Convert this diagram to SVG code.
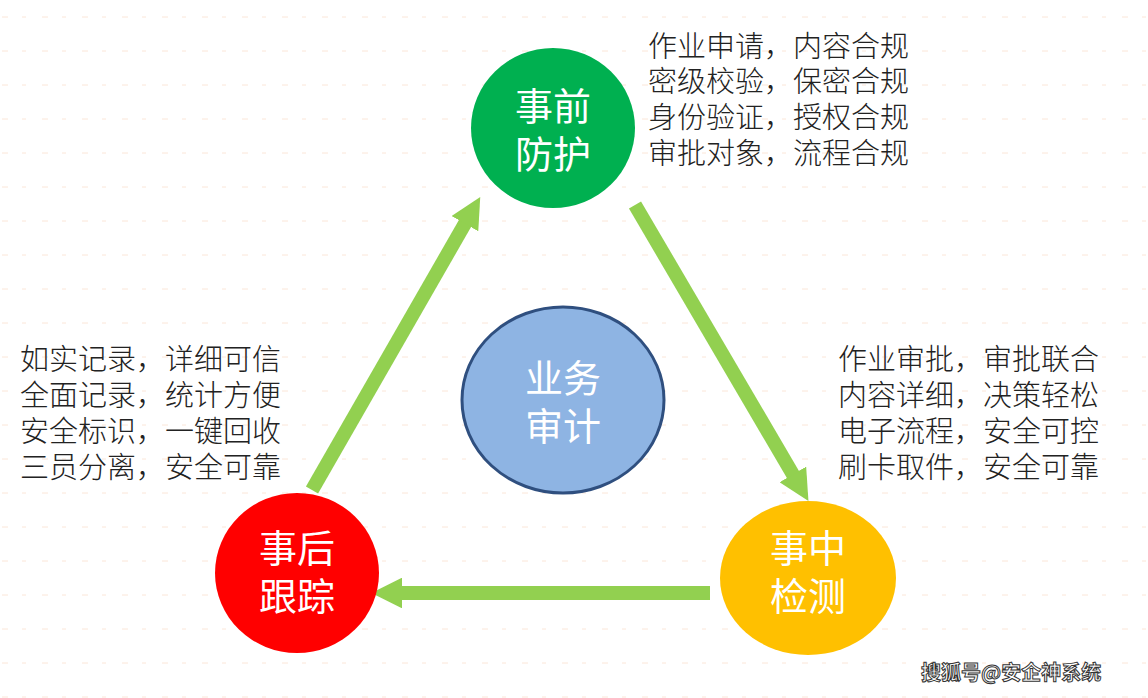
<svg xmlns="http://www.w3.org/2000/svg" width="1148" height="698" viewBox="0 0 1148 698">
<style>
.t{font-family:"Noto Sans CJK SC","Liberation Sans",sans-serif;font-size:29px;font-weight:300;fill:#222}
.c{font-family:"Noto Sans CJK SC","Liberation Sans",sans-serif;font-size:38px;fill:#fff;text-anchor:middle}
.a{stroke:#92d050;stroke-width:14;fill:none}
</style>
<defs>
<marker id="h" markerWidth="2.2" markerHeight="2.2" refX="0.3" refY="1.1" orient="auto" markerUnits="strokeWidth"><path d="M0,0L2.2,1.1L0,2.2z" fill="#92d050"/></marker>
<pattern id="g" width="40" height="34" patternUnits="userSpaceOnUse"><path d="M2,17h6M22,17h4" stroke="#fbe6d8" stroke-width="1"/></pattern>
</defs>
<rect width="1148" height="698" fill="#fff"/>
<rect width="1148" height="698" fill="url(#g)"/>
<g id="connectors">
<line class="a" x1="635" y1="205" x2="795" y2="478" marker-end="url(#h)"/>
<line class="a" x1="710" y1="593" x2="398" y2="593" marker-end="url(#h)"/>
<line class="a" x1="312" y1="490" x2="467" y2="220" marker-end="url(#h)"/>
</g>
<g id="pre"><ellipse cx="553" cy="128" rx="82" ry="80" fill="#00b050"/><text class="c" x="553" y="120">事前</text><text class="c" x="553" y="168">防护</text></g>
<g id="center"><ellipse cx="563" cy="400" rx="101" ry="93" fill="#8eb4e3" stroke="#2f4f7f" stroke-width="3"/><text class="c" x="563" y="392">业务</text><text class="c" x="563" y="440">审计</text></g>
<g id="mid"><ellipse cx="808" cy="578" rx="88" ry="77" fill="#ffc000"/><text class="c" x="808" y="562">事中</text><text class="c" x="808" y="610">检测</text></g>
<g id="post"><ellipse cx="297" cy="573" rx="82" ry="80" fill="#ff0000"/><text class="c" x="297" y="562">事后</text><text class="c" x="297" y="610">跟踪</text></g>
<g id="texts">
<text class="t" x="648" y="57">作业申请，内容合规</text>
<text class="t" x="648" y="92">密级校验，保密合规</text>
<text class="t" x="648" y="128">身份验证，授权合规</text>
<text class="t" x="648" y="164">审批对象，流程合规</text>
<text class="t" x="838" y="370">作业审批，审批联合</text>
<text class="t" x="838" y="406">内容详细，决策轻松</text>
<text class="t" x="838" y="442">电子流程，安全可控</text>
<text class="t" x="838" y="478">刷卡取件，安全可靠</text>
<text class="t" x="20" y="370">如实记录，详细可信</text>
<text class="t" x="20" y="406">全面记录，统计方便</text>
<text class="t" x="20" y="442">安全标识，一键回收</text>
<text class="t" x="20" y="478">三员分离，安全可靠</text>
</g>
<text x="921" y="680" font-family="Noto Sans CJK SC,sans-serif" font-size="20" font-weight="bold" fill="#fff" stroke="#333" stroke-width="1">搜狐号@安企神系统</text>
</svg>
